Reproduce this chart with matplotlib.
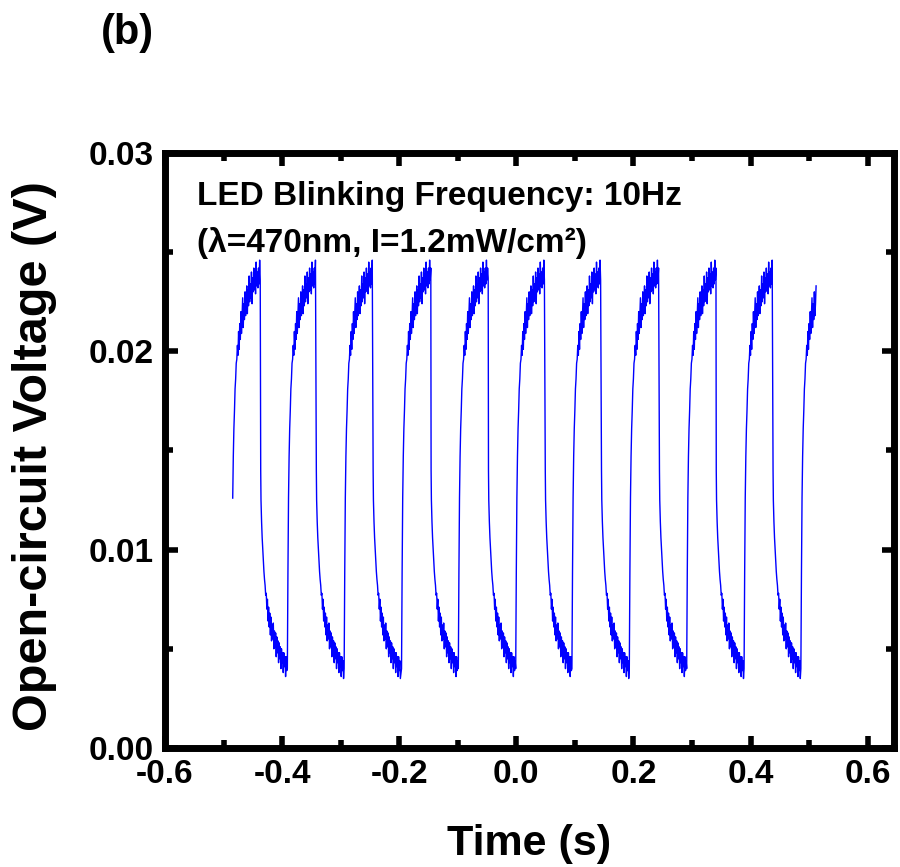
import matplotlib
matplotlib.use("Agg")
import matplotlib.pyplot as plt
from matplotlib.ticker import MultipleLocator

plt.rcParams['font.family'] = ['Liberation Sans', 'DejaVu Sans']
plt.rcParams['font.weight'] = 'bold'
plt.rcParams['axes.labelweight'] = 'bold'

# Start of each LED-on (charging) edge and each LED-off (discharging) edge, in s
rise_times = [-0.4863, -0.391, -0.294, -0.196, -0.099, -0.001, 0.095, 0.193, 0.291, 0.389, 0.486]
drop_times = [-0.437, -0.342, -0.245, -0.146, -0.048, 0.049, 0.145, 0.244, 0.341, 0.438]
trace_start = -0.4844
trace_end = 0.5125

# Measured Voc during one charging half-period (ms after the LED switches on, V)
charge_ms = [0, 1, 2, 3, 4, 5, 6, 7, 8, 9, 10, 11, 12, 13, 14, 15, 16, 17, 18, 19,
             20, 21, 22, 23, 24, 25, 26, 27, 28, 29, 30, 31, 32, 33, 34, 35, 36, 37, 38, 39,
             40, 41, 42, 43, 44, 45, 46, 47, 48, 49, 50, 51]
charge_v = [0.0040, 0.0088, 0.0126, 0.0147, 0.0161, 0.0170, 0.0181, 0.0186, 0.0194, 0.0196,
            0.0203, 0.0198, 0.0210, 0.0201, 0.0214, 0.0206, 0.0220, 0.0209, 0.0218, 0.0227,
            0.0212, 0.0224, 0.0216, 0.0230, 0.0218, 0.0224, 0.0233, 0.0219, 0.0231, 0.0223,
            0.0238, 0.0225, 0.0234, 0.0227, 0.0240, 0.0224, 0.0237, 0.0230, 0.0242, 0.0231,
            0.0239, 0.0229, 0.0245, 0.0233, 0.0240, 0.0232, 0.0242, 0.0234, 0.0246, 0.0236,
            0.0242, 0.0237]

# Measured Voc during one discharging half-period (ms after the LED switches off, V)
discharge_ms = [0.5, 1, 2, 3, 4, 5, 6, 7, 8, 9, 10, 11, 12, 13, 14, 15, 16, 17, 18, 19,
                20, 21, 22, 23, 24, 25, 26, 27, 28, 29, 30, 31, 32, 33, 34, 35, 36, 37, 38, 39,
                40, 41, 42, 43, 44, 45, 46, 47]
discharge_v = [0.0140, 0.0125, 0.0114, 0.0106, 0.0100, 0.0094, 0.0089, 0.0085, 0.0082, 0.0077,
               0.0078, 0.0070, 0.0075, 0.0064, 0.0071, 0.0061, 0.0068, 0.0057, 0.0066, 0.0054,
               0.0062, 0.0055, 0.0063, 0.0050, 0.0059, 0.0051, 0.0058, 0.0046, 0.0056, 0.0048,
               0.0054, 0.0043, 0.0053, 0.0045, 0.0051, 0.0040, 0.0050, 0.0043, 0.0048, 0.0038,
               0.0048, 0.0041, 0.0046, 0.0036, 0.0046, 0.0039, 0.0044, 0.0035]

# stitch the half-periods together at the recorded switching times
t, v = [], []
for i, t_on in enumerate(rise_times):
    t_off = drop_times[i] if i < len(drop_times) else trace_end
    for ms, val in zip(charge_ms, charge_v):
        if ms / 1000 < t_off - t_on:
            t.append(t_on + ms / 1000)
            v.append(val)
    if i < len(drop_times):
        for ms, val in zip(discharge_ms, discharge_v):
            if ms / 1000 < rise_times[i + 1] - t_off:
                t.append(t_off + ms / 1000)
                v.append(val)

keep = [(a, b) for a, b in zip(t, v) if trace_start <= a <= trace_end]
t = [a for a, b in keep]
v = [b for a, b in keep]

fig = plt.figure(figsize=(9, 8.67), dpi=100)
ax = fig.add_axes([0.1833, 0.1373, 0.81, 0.6862])
ax.plot(t, v, color='#0000ff', lw=1.0)

ax.set_xlim(-0.6, 0.645)
ax.set_ylim(0, 0.03)
ax.xaxis.set_major_locator(MultipleLocator(0.2))
ax.xaxis.set_minor_locator(MultipleLocator(0.1))
ax.yaxis.set_major_locator(MultipleLocator(0.01))
ax.yaxis.set_minor_locator(MultipleLocator(0.005))
ax.xaxis.set_major_formatter(plt.FuncFormatter(lambda x, p: f"{x:.1f}"))
ax.yaxis.set_major_formatter(plt.FuncFormatter(lambda y, p: f"{y:.2f}"))

for sp in ax.spines.values():
    sp.set_linewidth(5)
ax.tick_params(which='both', direction='in', top=True, right=True, width=4,
               labelsize=24, pad=8)
ax.tick_params(which='major', length=9)
ax.tick_params(which='minor', length=5.5)

ax.set_xlabel('Time (s)', fontsize=31, va='baseline')
ax.xaxis.set_label_coords(0.5, -0.1798)
ax.set_ylabel('Open-circuit Voltage (V)', fontsize=35, va='center')
ax.yaxis.set_label_coords(-0.179, 0.49)

ax.text(0.044, 0.913, 'LED Blinking Frequency: 10Hz', transform=ax.transAxes,
        fontsize=24, va='baseline', ha='left')
ax.text(0.044, 0.834, '(\u03bb=470nm, I=1.2mW/cm\u00b2)', transform=ax.transAxes,
        fontsize=24, va='baseline', ha='left')

fig.text(127 / 900, 1 - 33 / 867, '(b)', fontsize=30, ha='center', va='center')

fig.savefig('out.png', dpi=100)
